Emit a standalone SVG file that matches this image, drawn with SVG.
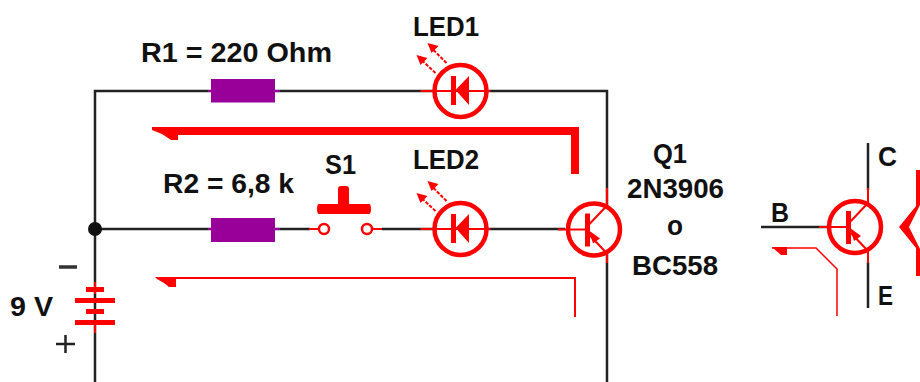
<svg xmlns="http://www.w3.org/2000/svg" width="920" height="382" viewBox="0 0 920 382">
<style>
.w{fill:none;stroke:#222;stroke-width:2.500}
.r{fill:none;stroke:#f00;stroke-width:2}
.d{fill:none;stroke:#f00;stroke-width:2;stroke-dasharray:3.500 1.500}
.c{fill:#fff;stroke:#f00;stroke-width:4.500}
.t{font-family:"Liberation Sans",Arial,sans-serif;font-weight:700;font-size:27px;fill:#111}
.f{fill:#f00}
.res{fill:#909}
</style>
<defs>
<g id="led">
<path class="r" d="M-40 0H30"/>
<circle class="c" cx="0" cy="0" r="26"/>
<path class="r" d="M-26 0H26"/>
<path class="f" d="M-9.500-15h5V14h-5zM8.500-15V14L-5-1z"/>
<path class="d" d="M-14-28L-28-42"/>
<path class="d" d="M-25-18L-39-31"/>
<path class="f" d="M-33-48L-22-45L-29-38zM-44-36L-33-33L-40-26z"/>
</g>
<g id="pnp">
<path class="r" d="M-36 0H-9"/>
<circle class="c" cx="0" cy="0" r="26"/>
<path class="r" d="M-26 0H-7"/>
<path class="f" d="M-9-16h5V17h-5z"/>
<path class="r" d="M-5-5L13-24M-5 5L13 24"/>
<path class="f" d="M-5 1L6 9L-1 14z"/>
</g>
</defs>
<g id="connectors">
<path class="w" d="M95 382V91H607V382"/>
<path class="w" d="M95 229H565"/>
<circle cx="95" cy="229" r="7" fill="#111"/>
<path class="f" d="M152 127H579V174H571V135H178V140H171L162 134L152 130z"/>
<path class="f" d="M155 277H576V317H574V279H176V287H169L164 283L157 279z"/>
</g>
<g id="r1"><rect class="res" x="211" y="79" width="64" height="23.500"/><path d="M208 91H280" stroke="#909" stroke-width="2"/><text class="t" x="141" y="62" textLength="191" lengthAdjust="spacingAndGlyphs">R1 = 220 Ohm</text></g>
<g id="led1"><use href="#led" x="460.500" y="91"/><text class="t" x="413" y="36" textLength="66" lengthAdjust="spacingAndGlyphs">LED1</text></g>
<g id="r2"><rect class="res" x="211" y="218" width="64" height="24"/><path d="M208 229H280" stroke="#909" stroke-width="2"/><text class="t" x="163" y="193" textLength="131" lengthAdjust="spacingAndGlyphs">R2 = 6,8 k</text></g>
<g id="s1">
<rect x="310" y="220" width="72" height="18" fill="#fff"/>
<path class="r" d="M309 229H318M373 229H382"/>
<circle cx="324" cy="229" r="5" fill="#fff" stroke="#f00" stroke-width="2.500"/>
<circle cx="367" cy="229" r="5" fill="#fff" stroke="#f00" stroke-width="2.500"/>
<path class="f" d="M338 189q0-3 3-3h5q3 0 3 3v15h20q2 0 2 5t-2 5H319q-2 0-2-5t2-5h19z"/>
<text class="t" x="325" y="174" textLength="31" lengthAdjust="spacingAndGlyphs">S1</text>
</g>
<g id="led2"><use href="#led" x="460.500" y="229"/><text class="t" x="413" y="169" textLength="66" lengthAdjust="spacingAndGlyphs">LED2</text></g>
<g id="q1"><use href="#pnp" x="594" y="229.500"/>
<path class="r" d="M607 188V206M607 253V263"/>
<text class="t" x="653" y="163" textLength="34" lengthAdjust="spacingAndGlyphs">Q1</text><text class="t" x="627" y="198" textLength="97" lengthAdjust="spacingAndGlyphs">2N3906</text><text class="t" x="667" y="235" textLength="16" lengthAdjust="spacingAndGlyphs">o</text><text class="t" x="632" y="275" textLength="86" lengthAdjust="spacingAndGlyphs">BC558</text></g>
<g id="battery">
<path class="r" d="M95 282V294M95 325V333"/>
<path class="f" d="M86 287h18v5H86zM75 298h40v5H75zM86 309h18v5H86zM75 320h40v5H75z"/>
<text class="t" x="10" y="316" textLength="43" lengthAdjust="spacingAndGlyphs">9 V</text>
<path d="M59 267H77" stroke="#333" stroke-width="3.500"/>
<path d="M56 344H75M65.500 335V353" stroke="#222" stroke-width="2.500"/>
</g>
<g id="legend">
<path class="w" d="M761 227H830M868 143V190M868 262V308"/>
<use href="#pnp" x="855" y="227"/>
<path class="r" d="M868 188V205M868 249V263"/>
<text class="t" x="771" y="222" textLength="18" lengthAdjust="spacingAndGlyphs">B</text><text class="t" x="878" y="166" textLength="19" lengthAdjust="spacingAndGlyphs">C</text><text class="t" x="878" y="305" textLength="15" lengthAdjust="spacingAndGlyphs">E</text>
<path class="r" d="M772 248H816L837 269V316" style="stroke-width:1.500"/>
<path class="f" d="M772 247H787V255H781z"/>
<path class="f" d="M916 170H920V205L909 227L920 249V276H916V248L899 227L916 206z"/>
</g>
</svg>
